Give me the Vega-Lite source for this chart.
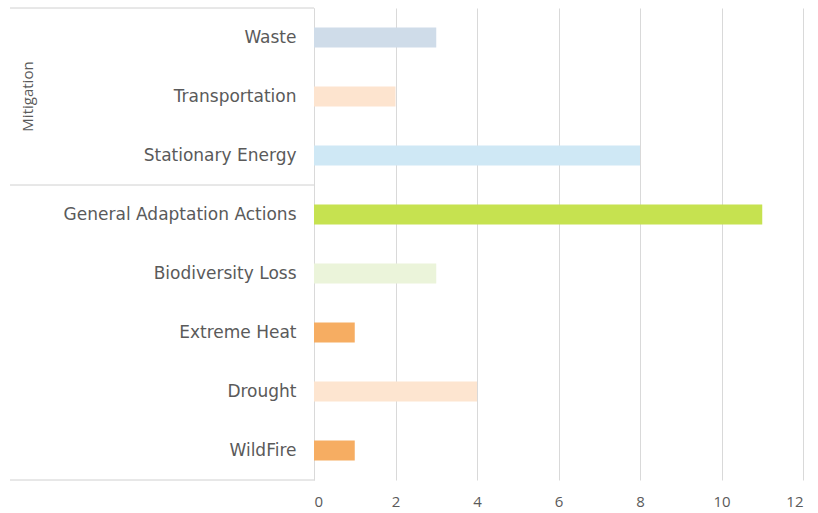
{
  "$schema": "https://vega.github.io/schema/vega-lite/v6.json",
  "width": 489,
  "height": 472,
  "autosize": "none",
  "padding": {"left": 314, "top": 8, "right": 15, "bottom": 33},
  "background": "white",
  "config": {"view": {"stroke": null}, "font": "Open Sans"},
  "datasets": {
    "bars": [
      {"cat": "Waste", "group": "Mitigation", "count": 3},
      {"cat": "Transportation", "group": "Mitigation", "count": 2},
      {"cat": "Stationary Energy", "group": "Mitigation", "count": 8},
      {"cat": "General Adaptation Actions", "group": "Adaptation", "count": 11},
      {"cat": "Biodiversity Loss", "group": "Adaptation", "count": 3},
      {"cat": "Extreme Heat", "group": "Adaptation", "count": 1},
      {"cat": "Drought", "group": "Adaptation", "count": 4},
      {"cat": "WildFire", "group": "Adaptation", "count": 1}
    ],
    "groupStarts": [
      {"cat": "Waste"},
      {"cat": "General Adaptation Actions"}
    ],
    "groupEnd": [
      {"cat": "WildFire"}
    ],
    "groupLabels": [
      {"cat": "Transportation", "label": "Mitigation"}
    ]
  },
  "layer": [
    {
      "data": {"name": "bars"},
      "mark": {"type": "bar", "height": {"band": 0.34}},
      "encoding": {
        "y": {
          "field": "cat", "type": "nominal", "sort": null,
          "scale": {"paddingInner": 0, "paddingOuter": 0},
          "axis": {
            "title": null, "ticks": false, "labelPadding": 18,
            "labelFont": "DejaVu Sans",
            "labelFontSize": 17, "labelColor": "#5a5a5a",
            "domainColor": "#d9d9d9", "labelLimit": 400
          }
        },
        "x": {
          "field": "count", "type": "quantitative",
          "scale": {"domain": [0, 12]},
          "axis": {
            "title": null, "values": [0, 2, 4, 6, 8, 10, 12], "ticks": false,
            "domain": false, "grid": true, "gridColor": "#d9d9d9",
            "labelPadding": 14, "labelFontSize": 15, "labelColor": "#5a5a5a"
          }
        },
        "color": {
          "field": "cat", "type": "nominal", "legend": null,
          "scale": {
            "domain": ["Waste", "Transportation", "Stationary Energy", "General Adaptation Actions", "Biodiversity Loss", "Extreme Heat", "Drought", "WildFire"],
            "range": ["#cfdce9", "#fde4cf", "#cfe8f5", "#c6e250", "#ebf4da", "#f6ad62", "#fde5d0", "#f6ad62"]
          }
        }
      }
    },
    {
      "data": {"name": "groupStarts"},
      "mark": {"type": "rule", "color": "#d0d0d0", "strokeWidth": 1, "clip": false},
      "encoding": {
        "y": {"field": "cat", "type": "nominal", "sort": null, "bandPosition": 0},
        "x": {"datum": -7.46},
        "x2": {"datum": 0}
      }
    },
    {
      "data": {"name": "groupEnd"},
      "mark": {"type": "rule", "color": "#d0d0d0", "strokeWidth": 1, "clip": false},
      "encoding": {
        "y": {"field": "cat", "type": "nominal", "sort": null, "bandPosition": 1},
        "x": {"datum": -7.46},
        "x2": {"datum": 0}
      }
    },
    {
      "data": {"name": "groupLabels"},
      "mark": {"type": "text", "angle": 270, "align": "center", "baseline": "middle", "fontSize": 15, "color": "#5a5a5a", "clip": false},
      "encoding": {
        "y": {"field": "cat", "type": "nominal", "sort": null},
        "x": {"datum": -7.02},
        "text": {"field": "label"}
      }
    }
  ]
}
